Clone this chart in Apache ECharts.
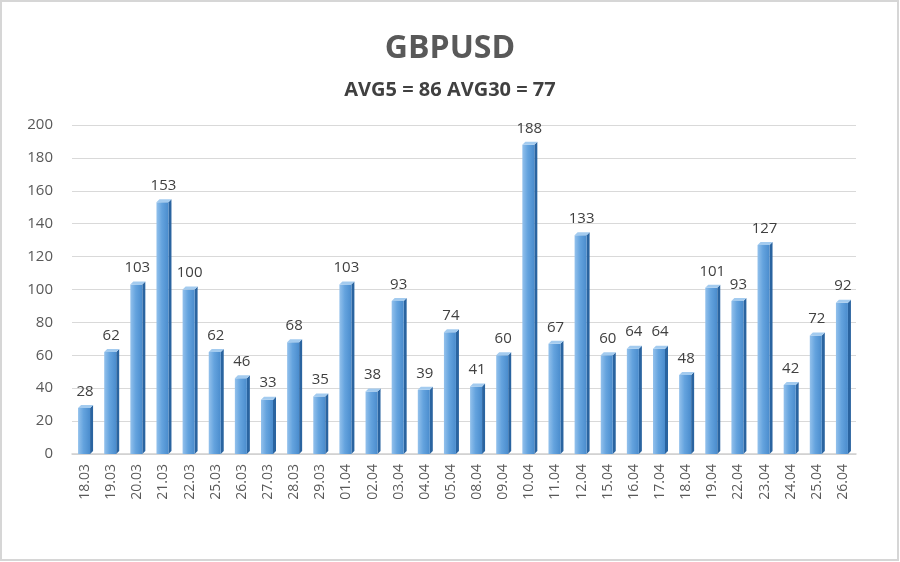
<!DOCTYPE html>
<html>
<head>
<meta charset="utf-8">
<script src="https://cdn.jsdelivr.net/npm/echarts@6/dist/echarts.min.js"></script>
<style>
html,body{margin:0;padding:0;background:#fff;}
#c{width:900px;height:562px;}
</style>
</head>
<body>
<div id="c"></div>
<script>
const categories = ['18.03','19.03','20.03','21.03','22.03','25.03','26.03','27.03','28.03','29.03','01.04','02.04','03.04','04.04','05.04','08.04','09.04','10.04','11.04','12.04','15.04','16.04','17.04','18.04','19.04','22.04','23.04','24.04','25.04','26.04'];
const values = [28,62,103,153,100,62,46,33,68,35,103,38,93,39,74,41,60,188,67,133,60,64,64,48,101,93,127,42,72,92];
const yTicks = {min:0, max:200, interval:20};
const titleText = 'GBPUSD';
const subtitleText = 'AVG5 = 86 AVG30 = 77';

const chart = echarts.init(document.getElementById('c'), null, {renderer:'canvas'});
const FONT = '"Open Sans", "Liberation Sans", sans-serif';

function renderBar(params, api){
  const idx = api.value(0);
  const val = api.value(1);
  const top = api.coord([idx, val]);
  const base = api.coord([idx, 0]);
  const cx = top[0];
  const ty = top[1];
  const by = base[1];
  const l = cx - 7, r = cx + 5, d = 3;
  return {
    type:'group',
    children:[
      {type:'polygon', shape:{points:[[r,ty],[r+d,ty-d],[r+d,by-d],[r,by]]},
        style:{fill:'#2a64a0'}},
      {type:'rect', shape:{x:l,y:ty,width:r-l,height:by-ty},
        style:{fill:new echarts.graphic.LinearGradient(0,0,1,0,[
          {offset:0,color:'#93c1ec'},{offset:0.45,color:'#64a3de'},{offset:1,color:'#4a8ccd'}])}},
      {type:'polygon', shape:{points:[[l,ty],[l+d,ty-d],[r+d,ty-d],[r,ty]]},
        style:{fill:'#a3cbef'}},
      {type:'text', style:{text:String(val), x:cx, y:ty-9, textAlign:'center', textVerticalAlign:'bottom',
        fill:'#404040', font:'15px ' + FONT}}
    ]
  };
}

chart.setOption({
  backgroundColor:'#ffffff',
  animation:false,
  graphic:[{type:'rect', shape:{x:1,y:1,width:897,height:559}, style:{fill:'none', stroke:'#d6d6d6', lineWidth:2}, z:-1}],
  title:[
    {text:titleText, left:'center', top:28, textStyle:{fontFamily:FONT, fontWeight:'bold', fontSize:32, color:'#595959'}},
    {text:subtitleText, left:'center', top:75, textStyle:{fontFamily:FONT, fontWeight:'bold', fontSize:20, color:'#404040'}}
  ],
  grid:{left:72, right:44, top:125, bottom:108},
  xAxis:{
    type:'category', data:categories,
    axisLine:{show:true, lineStyle:{color:'#d0d0d0', width:1.5}},
    axisTick:{show:false},
    axisLabel:{rotate:90, interval:0, margin:10, color:'#595959', fontSize:14, fontFamily:FONT}
  },
  yAxis:{
    type:'value', min:yTicks.min, max:yTicks.max, interval:yTicks.interval,
    axisLine:{show:false}, axisTick:{show:false},
    axisLabel:{margin:19, color:'#595959', fontSize:15, fontFamily:FONT},
    splitLine:{lineStyle:{color:'#d9d9d9', width:1}}
  },
  series:[{
    type:'custom',
    renderItem:renderBar,
    encode:{x:0, y:1},
    data:values.map((v,i)=>[i,v])
  }]
});
</script>
</body>
</html>
